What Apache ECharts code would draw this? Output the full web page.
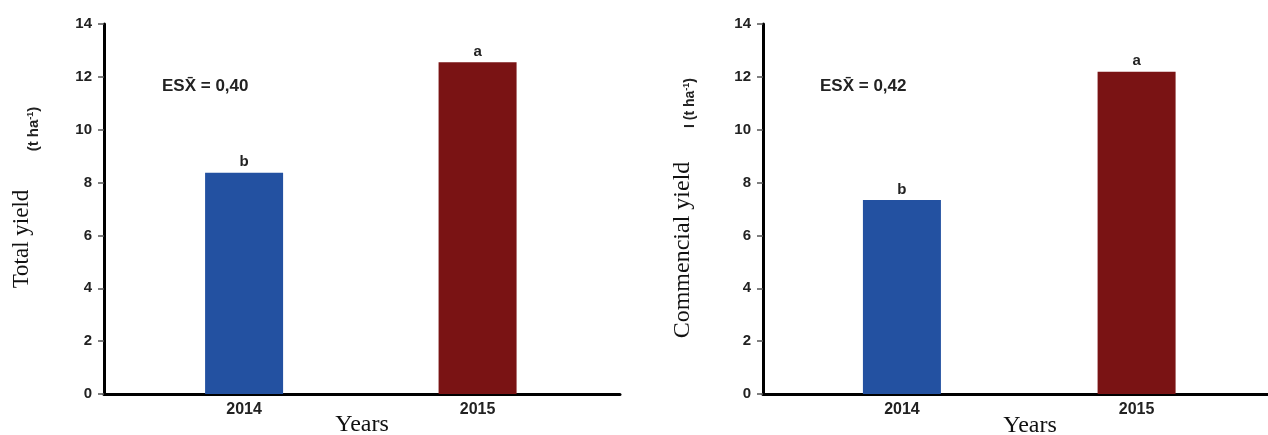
<!DOCTYPE html>
<html><head><meta charset="utf-8">
<script src="https://cdn.jsdelivr.net/npm/echarts@6/dist/echarts.min.js"></script>
<style>html,body{margin:0;padding:0;background:#fff}#c{width:1268px;height:435px}</style>
</head><body><div id="c"></div>
<script>
const years = ['2014', '2015'];
const totalYield = [8.37, 12.55];
const commercialYield = [7.34, 12.19];
const totalLetters = ['b', 'a'];
const commercialLetters = ['b', 'a'];
const barColors = ['#2351a1', '#7a1314'];
const esTotal = 'ESX\u0304 = 0,40';
const esCommercial = 'ESX\u0304 = 0,42';

const SANS = '"Liberation Sans", Arial, sans-serif';
const SERIF = '"Liberation Serif", "Times New Roman", serif';

function makeData(vals){ return vals.map((v,i)=>({value:[i,v], itemStyle:{color:barColors[i]}})); }

function xAx(gi, min, max){
  return {gridIndex:gi, type:'value', min:min, max:max,
    splitLine:{show:false},
    axisLine:{show:true, onZero:false, lineStyle:{color:'#000', width:3}},
    axisTick:{show:false},
    axisLabel:{customValues:[0,1], formatter:v=>years[Math.round(v)] || '', color:'#222', fontFamily:SANS, fontWeight:'bold', fontSize:16, margin:8}};
}
function yAx(gi){
  return {gridIndex:gi, type:'value', min:0, max:14, interval:2,
    splitLine:{show:false},
    axisLine:{show:true, onZero:false, lineStyle:{color:'#000', width:3}},
    axisTick:{show:true, length:6, lineStyle:{color:'#555', width:1.5}},
    axisLabel:{color:'#222', fontFamily:SANS, fontWeight:'bold', fontSize:15, margin:12}};
}
function barSeries(gi, vals, letters){
  return {type:'bar', xAxisIndex:gi, yAxisIndex:gi, barWidth:78, data:makeData(vals),
    label:{show:true, position:'top', distance:3, formatter:p=>letters[p.dataIndex], color:'#222', fontFamily:SANS, fontWeight:'bold', fontSize:15}};
}

const supRich = {s:{fontSize:9, fontWeight:'bold', fontFamily:SANS, verticalAlign:'top', padding:[0,0,7,0]}};

const chart = echarts.init(document.getElementById('c'), null, {renderer:'canvas'});
chart.setOption({
  animation:false,
  backgroundColor:'#fff',
  grid:[
    {left:104, top:24, width:516, height:370},
    {left:763, top:24, width:505, height:370}
  ],
  xAxis:[xAx(0,-0.6,1.61), xAx(1,-0.592,1.56)],
  yAxis:[yAx(0), yAx(1)],
  series:[barSeries(0,totalYield,totalLetters), barSeries(1,commercialYield,commercialLetters)],
  graphic:[
    {type:'text', x:162, y:86, style:{text:esTotal, font:'bold 17px '+SANS, fill:'#222', textVerticalAlign:'middle'}},
    {type:'text', x:820, y:86, style:{text:esCommercial, font:'bold 17px '+SANS, fill:'#222', textVerticalAlign:'middle'}},
    {type:'text', x:22, y:239, rotation:Math.PI/2, style:{text:'Total yield', font:'23px '+SERIF, fill:'#111', textAlign:'center', textVerticalAlign:'middle'}},
    {type:'text', x:34, y:129, rotation:Math.PI/2, style:{text:'(t ha{s|-1})', font:'bold 15px '+SANS, fill:'#222', textAlign:'center', textVerticalAlign:'middle', rich:supRich}},
    {type:'text', x:683, y:250, rotation:Math.PI/2, style:{text:'Commencial yield', font:'24px '+SERIF, fill:'#111', textAlign:'center', textVerticalAlign:'middle'}},
    {type:'text', x:690, y:103, rotation:Math.PI/2, style:{text:'I (t ha{s|-1})', font:'bold 14px '+SANS, fill:'#222', textAlign:'center', textVerticalAlign:'middle', rich:supRich}},
    {type:'text', x:362, y:425, style:{text:'Years', font:'24px '+SERIF, fill:'#111', textAlign:'center', textVerticalAlign:'middle'}},
    {type:'text', x:1030, y:426, style:{text:'Years', font:'24px '+SERIF, fill:'#111', textAlign:'center', textVerticalAlign:'middle'}}
  ]
});
</script></body></html>
